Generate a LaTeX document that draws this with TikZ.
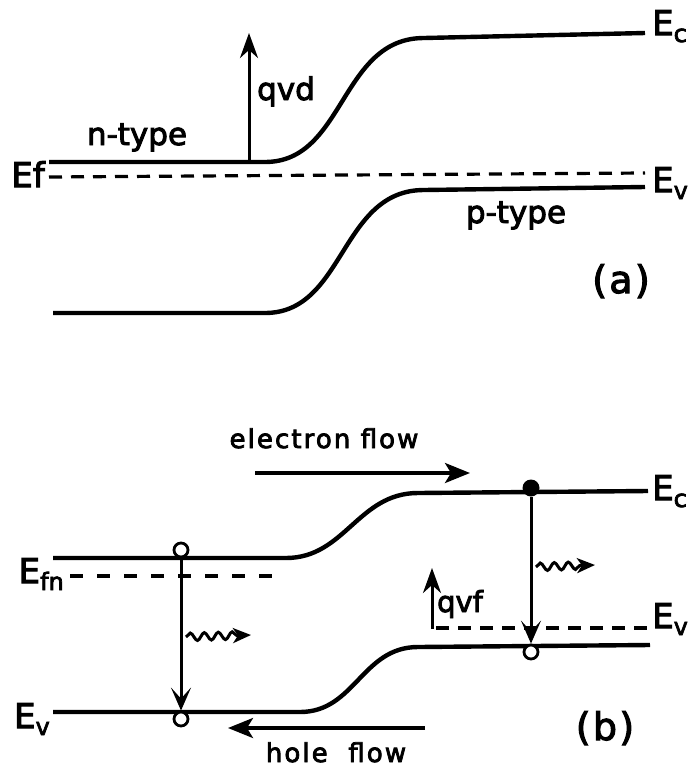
\documentclass[tikz,border=0pt]{standalone}
\usepackage{fontspec}
\setmainfont{DejaVu Sans}[FakeBold=3]
\usetikzlibrary{arrows.meta,decorations.pathmorphing}
\newcommand\fsz[1]{\fontsize{#1}{#1}\selectfont}
\newcommand\Elab[1]{\fsz{34}E\raisebox{-7pt}{\fsz{24}#1}}
\begin{document}
\begin{tikzpicture}[x=1pt,y=-1pt,
  band/.style={line width=4.4pt},
  fermi/.style={line width=3.2pt, dash pattern=on 13pt off 9pt},
  fermiwide/.style={line width=3.2pt, dash pattern=on 13pt off 14pt},
  lbl/.style={inner sep=0pt},
  bigtxt/.style={lbl, font=\fsz{31}},
  flowtxt/.style={lbl, font=\fsz{26}\addfontfeature{LetterSpace=8}},
  flowarrow/.style={line width=3.4pt, -{Stealth[length=25pt,width=20pt,inset=6pt]}},
  transarrow/.style={line width=3pt, -{Stealth[length=23pt,width=20pt,inset=11pt]}},
  potarrow/.style={line width=3pt, -{Stealth[length=25pt,width=18pt,inset=8pt]}},
  photon/.style={line width=3pt, -{Stealth[length=18pt,width=15pt,inset=5pt]}, decorate,
    decoration={snake,amplitude=3.8pt,segment length=14pt,post length=14pt}},
  hole/.style={circle, draw, fill=white, line width=2.8pt, minimum size=14pt, inner sep=0pt},
  electron/.style={circle, fill=black, minimum size=17pt, inner sep=0pt}
]
\useasboundingbox (0,0) rectangle (691,772);

% ---------------- (a) ----------------
\draw[band] (49,162) -- (265,162) .. controls (345,162) and (340,38) .. (424,38) -- (645,33);
\draw[fermi] (49,177) -- (645,173);
\draw[band] (53,313) -- (265,313) .. controls (345,313) and (340,190) .. (424,190) -- (645,187);

\coordinate (qa0) at (249,162);
\coordinate (qa1) at (249,33);
\draw[potarrow] (qa0) -- (qa1);

\node[lbl, anchor=base west] (Eca) at (652,35) {\Elab{c}};
\node[lbl, anchor=base west] (Eva) at (652,192) {\Elab{v}};
\node[lbl, anchor=base east, font=\fsz{34}] (Efa) at (45,187) {Ef};
\node[bigtxt, anchor=base] (ntype) at (137,145) {n-type};
\node[bigtxt, anchor=base] (qvd) at (286,100) {qvd};
\node[bigtxt, anchor=base] (ptype) at (516,223) {p-type};
\node[lbl, anchor=base, font=\fsz{38}\addfontfeature{LetterSpace=6}] (la) at (621,293) {(a)};

% ---------------- (b) ----------------
\draw[band] (53,558) -- (286,558) .. controls (345,558) and (358,493) .. (418,493) -- (648,491);
\draw[fermiwide] (70,576) -- (275,576);
\draw[band] (53,712) -- (300,712) .. controls (355,712) and (362,647) .. (418,647) -- (650,645);
\draw[fermi] (436,628) -- (648,628);

\coordinate (ef0) at (255,473);
\coordinate (ef1) at (470,473);
\draw[flowarrow] (ef0) -- (ef1);
\coordinate (hf0) at (425,728);
\coordinate (hf1) at (228,728);
\draw[flowarrow] (hf0) -- (hf1);

\node[hole] (h1) at (181,550) {};
\node[hole] (h2) at (181,719) {};
\draw[transarrow] (h1.south) -- (h2.north);
\node[electron] (e1) at (531,488) {};
\node[hole] (h3) at (531,652) {};
\draw[transarrow] (e1) -- (h3.north);

\coordinate (ph1a) at (186,637);
\coordinate (ph1b) at (251,635);
\draw[photon] (ph1a) -- (ph1b);
\coordinate (ph2a) at (536,567);
\coordinate (ph2b) at (595,565);
\draw[photon] (ph2a) -- (ph2b);

\coordinate (qv0) at (432,629);
\coordinate (qv1) at (432,568);
\draw[potarrow] (qv0) -- (qv1);

\node[lbl, anchor=base west] (Ecb) at (652,500) {\Elab{c}};
\node[lbl, anchor=base west] (Evb) at (652,628) {\Elab{v}};
\node[lbl, anchor=base east] (Efn) at (64,583) {\Elab{fn}};
\node[lbl, anchor=base east] (Evl) at (50,728) {\Elab{v}};
\node[flowtxt, anchor=base] (etxt) at (324,448) {electron flow};
\node[flowtxt, anchor=base] (htxt) at (336,762) {hole\ \ flow};
\node[lbl, anchor=base, font=\fsz{29}] (qvf) at (460,612) {qvf};
\node[lbl, anchor=base, font=\fsz{38}\addfontfeature{LetterSpace=6}] (lb) at (605,740) {(b)};
\end{tikzpicture}
\end{document}
